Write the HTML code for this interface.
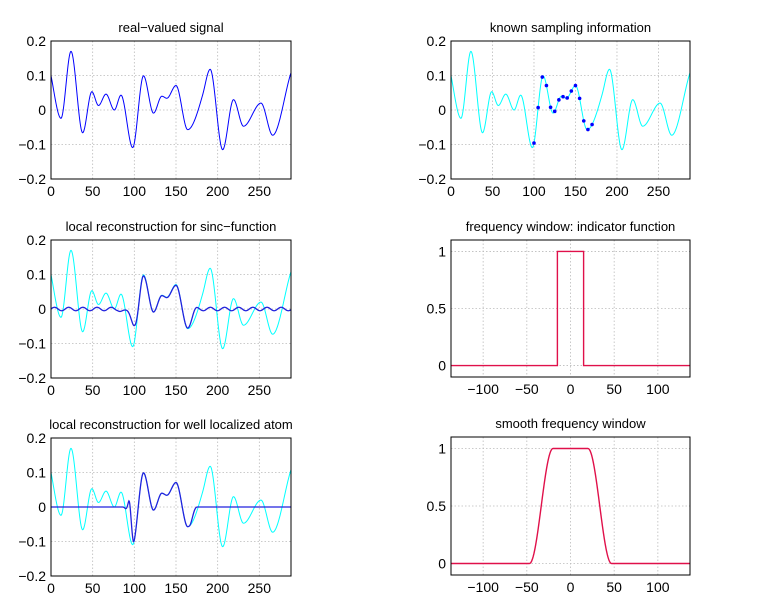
<!DOCTYPE html>
<html><head><meta charset="utf-8"><style>
body{margin:0;background:#fff}
svg{display:block;font-family:"Liberation Sans",sans-serif}
</style></head><body>
<svg id="s" width="777" height="608" xmlns="http://www.w3.org/2000/svg"></svg>
<script>
var S=document.getElementById('s');var out='';
var P=[[0,0.1],[12,-0.024],[24,0.17],[38,-0.066],[49,0.053],[57,0.013],[66,0.046],[76,0.0],[84,0.043],[98,-0.109],[111,0.099],[123,-0.009],[133,0.04],[139,0.034],[150,0.071],[164,-0.057],[182,0.044],[191,0.118],[206,-0.115],[219,0.03],[231,-0.047],[252,0.02],[266,-0.073],[288,0.108]];
function slope(i){if(i==0){return (P[1][1]-P[0][1])/(P[1][0]-P[0][0])*1.2}
if(i==P.length-1){return (P[i][1]-P[i-1][1])/(P[i][0]-P[i-1][0])*0.9}
var a=P[i-1][1],b=P[i][1],c=P[i+1][1];if((b-a)*(c-b)<=0)return 0;
return (c-a)/(P[i+1][0]-P[i-1][0])*1.3;}
function sig(x){for(var i=0;i<P.length-1;i++){if(x<=P[i+1][0]){var x0=P[i][0],x1=P[i+1][0],h=x1-x0,t=(x-x0)/h,t2=t*t,t3=t2*t;
return (2*t3-3*t2+1)*P[i][1]+(t3-2*t2+t)*h*slope(i)+(-2*t3+3*t2)*P[i+1][1]+(t3-t2)*h*slope(i+1);}}return P[P.length-1][1];}
function ss(a,b,x){if(x<=a)return 0;if(x>=b)return 1;var t=(x-a)/(b-a);return 0.5-0.5*Math.cos(Math.PI*t);}
function axes(L,T,R,B,xmin,xmax,ymin,ymax,xt,yt,ytl,title){
 var o='';var X=function(v){return L+(v-xmin)/(xmax-xmin)*(R-L)},Y=function(v){return B-(v-ymin)/(ymax-ymin)*(B-T)};
 xt.forEach(function(v){var x=X(v);o+='<line x1="'+x+'" y1="'+T+'" x2="'+x+'" y2="'+B+'" stroke="#bbb" stroke-width="0.8" stroke-dasharray="1.5,2"/>';o+='<text x="'+x+'" y="'+(B+17)+'" font-size="14" text-anchor="middle">'+(v<0?'\u2212'+(-v):v)+'</text>';});
 yt.forEach(function(v,i){var y=Y(v);o+='<line x1="'+L+'" y1="'+y+'" x2="'+R+'" y2="'+y+'" stroke="#bbb" stroke-width="0.8" stroke-dasharray="1.5,2"/>';o+='<text x="'+(L-5)+'" y="'+(y+5)+'" font-size="14" text-anchor="end">'+ytl[i]+'</text>';});
 o+='<text x="'+((L+R)/2)+'" y="'+(T-9)+'" font-size="13" text-anchor="middle">'+title+'</text>';
 return {o:o,X:X,Y:Y,box:'<rect x="'+L+'" y="'+T+'" width="'+(R-L)+'" height="'+(B-T)+'" fill="none" stroke="#000" stroke-width="1"/>'};}
function path(A,f,x0,x1,col,w){var d='';for(var x=x0;x<=x1+1e-9;x+=0.5){d+=(d?'L':'M')+A.X(x).toFixed(2)+','+A.Y(f(x)).toFixed(2);}return '<path d="'+d+'" fill="none" stroke="'+col+'" stroke-width="'+(w||1)+'"/>';}
var yt=[-0.2,-0.1,0,0.1,0.2],ytl=['\u22120.2','\u22120.1','0','0.1','0.2'],xt=[0,50,100,150,200,250];
var A=axes(51,41,291,179,0,288,-0.2,0.2,xt,yt,ytl,'real\u2212valued signal');out+=A.o+path(A,sig,0,288,'#00f')+A.box;
A=axes(451,41,690,179,0,288,-0.2,0.2,xt,yt,ytl,'known sampling information');out+=A.o+path(A,sig,0,288,'#0ff');
for(var x=100;x<=170;x+=5){out+='<circle cx="'+A.X(x)+'" cy="'+A.Y(sig(x))+'" r="1.8" fill="#00f"/>';}out+=A.box;
A=axes(51,240,291,378,0,288,-0.2,0.2,xt,yt,ytl,'local reconstruction for sinc\u2212function');out+=A.o+path(A,sig,0,288,'#0ff');
out+=path(A,function(x){var w=ss(90,110,x)*(1-ss(164,176,x));return sig(x)*w*0.97+(1-w)*0.005*Math.sin(2*Math.PI*x/17)+(x>80&&x<100?-0.008*Math.sin(Math.PI*(x-80)/20):0);},0,288,'#22d',1.3)+A.box;
A=axes(51,438,291,576,0,288,-0.2,0.2,xt,yt,ytl,'local reconstruction for well localized atom');out+=A.o+path(A,sig,0,288,'#0ff');
out+=path(A,function(x){var w=ss(93,100,x)*(1-ss(166,176,x));var b=0.02*Math.exp(-Math.pow((x-94)/2,2))-0.005*Math.exp(-Math.pow((x-90)/2,2));return sig(x)*w+b;},0,288,'#22d',1.3)+A.box;
var xt2=[-100,-50,0,50,100],yt2=[0,0.5,1],ytl2=['0','0.5','1'];
A=axes(451,240,690,377,-136.8,136.8,-0.1,1.1,xt2,yt2,ytl2,'frequency window: indicator function');out+=A.o;
out+='<path d="M'+A.X(-136.8)+','+A.Y(0)+'L'+A.X(-15)+','+A.Y(0)+'L'+A.X(-15)+','+A.Y(1)+'L'+A.X(15)+','+A.Y(1)+'L'+A.X(15)+','+A.Y(0)+'L'+A.X(136.8)+','+A.Y(0)+'" fill="none" stroke="#e0104a" stroke-width="1.4"/>'+A.box;
A=axes(451,437,690,575,-136.8,136.8,-0.1,1.1,xt2,yt2,ytl2,'smooth frequency window');out+=A.o;
out+=path(A,function(x){return ss(-47,-20,x)*(1-ss(20,47,x));},-136.8,136.8,'#e0104a',1.4)+A.box;
S.innerHTML=out;
</script>
</body></html>
